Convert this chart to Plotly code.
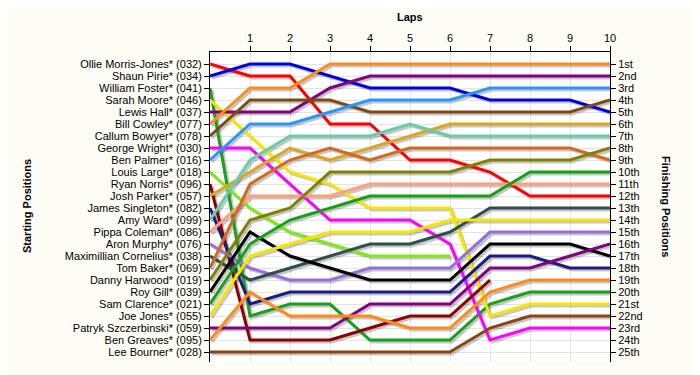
import plotly.graph_objects as go

laps = list(range(11))
lap_ticks = list(range(1, 11))

starting_names = [
    "Ollie Morris-Jones* (032)", "Shaun Pirie* (034)", "William Foster* (041)",
    "Sarah Moore* (046)", "Lewis Hall* (037)", "Bill Cowley* (077)",
    "Callum Bowyer* (078)", "George Wright* (030)", "Ben Palmer* (016)",
    "Louis Large* (018)", "Ryan Norris* (096)", "Josh Parker* (057)",
    "James Singleton* (082)", "Amy Ward* (099)", "Pippa Coleman* (086)",
    "Aron Murphy* (076)", "Maximillian Cornelius* (038)", "Tom Baker* (069)",
    "Danny Harwood* (019)", "Roy Gill* (039)", "Sam Clarence* (021)",
    "Joe Jones* (055)", "Patryk Szczerbinski* (059)", "Ben Greaves* (095)",
    "Lee Bourner* (028)",
]

finishing_labels = ["1st", "2nd", "3rd"] + [f"{i}th" for i in range(4, 21)] + \
    ["21st", "22nd", "23rd", "24th", "25th"]

# Position at end of each lap (lap 0 = grid position); None = retired
pos_ollie = [1, 2, 2, 6, 6, 9, 9, 10, 12, 12, 12]
pos_shaun = [2, 1, 1, 2, 3, 3, 3, 4, 4, 4, 5]
pos_william = [3, 22, 21, 21, 24, 24, 24, 21, 20, 20, 20]
pos_sarah = [4, 7, 10, 11, 13, 13, 13, 22, 21, 21, 21]
pos_lewis = [5, 5, 5, 3, 2, 2, 2, 2, 2, 2, 2]
pos_bill = [6, 3, 3, 1, 1, 1, 1, 1, 1, 1, 1]
pos_callum = [7, 4, 4, 4, 5, 5, 5, 5, 5, 5, 4]
pos_george = [8, 8, 11, 14, 14, 14, 16, 24, 23, 23, 23]
pos_benp = [9, 6, 6, 5, 4, 4, 4, 3, 3, 3, 3]
pos_louis = [10, 13, 15, 16, 17, 17, 17, None, None, None, None]
pos_ryan = [11, 24, 24, 24, 23, 22, 22, 19, None, None, None]
pos_josh = [12, 10, 8, 9, 8, 7, 6, 6, 6, 6, 6]
pos_james = [13, 21, 20, 20, 20, 20, 20, 17, 17, 18, 18]
pos_amy = [14, 9, 7, 7, 7, 6, 7, 7, 7, 7, 7]
pos_pippa = [15, 12, 12, 12, 11, 11, 11, 11, 11, 11, 11]
pos_aron = [16, 18, 19, 19, 18, 18, 18, 15, 15, 15, 15]
pos_max = [17, 19, 18, 17, 16, 16, 15, 13, 13, 13, 13]
pos_tom = [18, 11, 9, 8, 9, 8, 8, 8, 8, 8, 9]
pos_danny = [19, 14, 13, 10, 10, 10, 10, 9, 9, 9, 8]
pos_roy = [20, 15, 17, 18, 19, 19, 19, 16, 16, 16, 17]
pos_sam = [21, 16, 14, 13, 12, 12, 12, 12, 10, 10, 10]
pos_joe = [22, 17, 16, 15, 15, 15, 14, 14, 14, 14, 14]
pos_patryk = [23, 23, 23, 23, 21, 21, 21, 18, 18, 17, 16]
pos_beng = [24, 20, 22, 22, 22, 23, 23, 20, 19, 19, 19]
pos_lee = [25, 25, 25, 25, 25, 25, 25, 23, 22, 22, 22]

all_positions = [
    pos_ollie, pos_shaun, pos_william, pos_sarah, pos_lewis, pos_bill,
    pos_callum, pos_george, pos_benp, pos_louis, pos_ryan, pos_josh,
    pos_james, pos_amy, pos_pippa, pos_aron, pos_max, pos_tom, pos_danny,
    pos_roy, pos_sam, pos_joe, pos_patryk, pos_beng, pos_lee,
]

colors = [
    "#ff0000", "#0000d8", "#1aa01a", "#f5e600", "#800080", "#ff8c1a",
    "#7e4a14", "#ff00ff", "#2b95ff", "#80e81a", "#8b0000", "#daa520",
    "#1c1c80", "#66cdaa", "#ffa07a", "#9370db", "#2f4f4f", "#d2691e",
    "#808000", "#000000", "#14a014", "#f5e600", "#800080", "#ff8c1a",
    "#8b4513",
]

fig = go.Figure()

# Y range: top of plot = 0, bottom = 25.83 (reversed); 12 px per position
Y_TOP, Y_BOT = 0.0, 25.83
X_MIN, X_MAX = 0, 10
px_per_x = 40.0
px_per_y = 12.0
shadow_dx = 2 / px_per_x
shadow_dy = 2 / px_per_y

# shadows on base axes (shifted ranges)
for pos in all_positions:
    fig.add_trace(go.Scatter(
        x=laps, y=pos, mode="lines", xaxis="x", yaxis="y",
        line=dict(color="rgba(0,0,0,0.22)", width=3),
        hoverinfo="skip", showlegend=False, connectgaps=False,
    ))

for name, pos, col in zip(starting_names, all_positions, colors):
    fig.add_trace(go.Scatter(
        x=laps, y=pos, mode="lines", xaxis="x2", yaxis="y2", name=name,
        line=dict(color=col, width=3), showlegend=False, connectgaps=False,
    ))

# dummy trace for right axis
fig.add_trace(go.Scatter(x=[None], y=[None], xaxis="x2", yaxis="y3",
                         showlegend=False, hoverinfo="skip"))

font = "Liberation Sans, Arial, sans-serif"
grid = "#e4e4e4"

# page body has an 8px margin; plot area lands at x 210..610, y 52..362
fig.update_layout(
    width=700, height=375,
    margin=dict(l=202, r=98, t=44, b=21, autoexpand=False),
    paper_bgcolor="#fdfdf6",
    plot_bgcolor="#ffffff",
    font=dict(family=font, size=11, color="#000000"),
    xaxis=dict(range=[X_MIN - shadow_dx, X_MAX - shadow_dx], visible=False,
               fixedrange=True, automargin=False),
    yaxis=dict(range=[Y_BOT - shadow_dy, Y_TOP - shadow_dy], visible=False,
               fixedrange=True, automargin=False),
    xaxis2=dict(
        overlaying="x", side="top", anchor="y2", range=[X_MIN, X_MAX],
        tickmode="array", tickvals=lap_ticks, ticktext=[str(v) for v in lap_ticks],
        ticks="outside", ticklen=5, tickcolor="#000000",
        showline=True, linecolor="#000000", linewidth=1,
        showgrid=True, gridcolor=grid, gridwidth=1, zeroline=False,
        tickfont=dict(size=11), automargin=False,
    ),
    yaxis2=dict(
        overlaying="y", side="left", anchor="x2", range=[Y_BOT, Y_TOP],
        tickmode="array", tickvals=list(range(1, 26)), ticktext=starting_names,
        ticks="outside", ticklen=5, tickcolor="#000000",
        showline=True, linecolor="#000000", linewidth=1,
        showgrid=True, gridcolor=grid, gridwidth=1, zeroline=False,
        tickfont=dict(size=11), automargin=False,
    ),
    yaxis3=dict(
        overlaying="y", side="right", anchor="x2", range=[Y_BOT, Y_TOP],
        tickmode="array", tickvals=list(range(1, 26)), ticktext=finishing_labels,
        ticks="outside", ticklen=5, tickcolor="#000000",
        showline=True, linecolor="#000000", linewidth=1,
        showgrid=False, zeroline=False, tickfont=dict(size=11),
        automargin=False,
    ),
    annotations=[
        dict(text="<b>Laps</b>", xref="paper", yref="paper", x=0.5,
             y=(362 - 17) / 310, showarrow=False, font=dict(size=11),
             xanchor="center", yanchor="middle"),
        dict(text="<b>Starting Positions</b>", xref="paper", yref="paper",
             x=(27 - 210) / 400, y=(362 - 206) / 310, showarrow=False,
             textangle=-90, font=dict(size=11), xanchor="center",
             yanchor="middle"),
        dict(text="<b>Finishing Positions</b>", xref="paper", yref="paper",
             x=(666 - 210) / 400, y=(362 - 206) / 310, showarrow=False,
             textangle=90, font=dict(size=11), xanchor="center",
             yanchor="middle"),
    ],
)

fig.write_html("out.html")
